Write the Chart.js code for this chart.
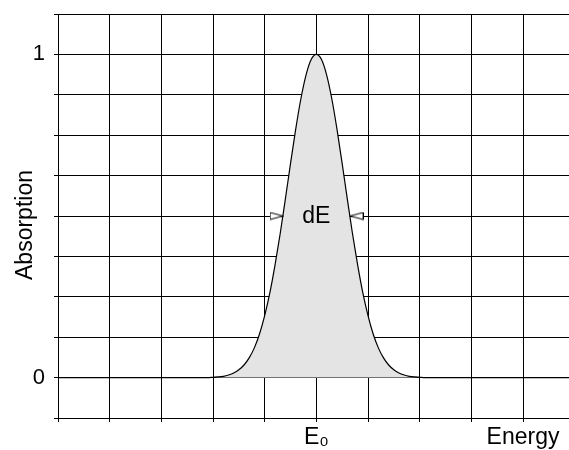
<!DOCTYPE html>
<html>
<head>
<meta charset="utf-8">
<script src="https://cdn.jsdelivr.net/npm/chart.js@4"></script>
<style>
  html, body { margin: 0; padding: 0; background: #fff; }
  #wrap { width: 569px; height: 450px; position: relative; }
</style>
</head>
<body>
<div id="wrap"><canvas id="absChart"></canvas></div>
<script>
// energy axis (grid units) and absorption values
const energy = [0, 2.9, 3.0, 3.1, 3.2, 3.3, 3.4, 3.5, 3.6, 3.7, 3.8, 3.9, 4.0, 4.1, 4.2, 4.3, 4.4, 4.5, 4.6, 4.7, 4.8, 4.9,
  5.0, 5.1, 5.2, 5.3, 5.4, 5.5, 5.6, 5.7, 5.8, 5.9, 6.0, 6.1, 6.2, 6.3, 6.4, 6.5, 6.6, 6.7, 6.8, 6.9, 7.0, 7.1, 9.9];
const absorption = [0, 0, 0.001, 0.002, 0.004, 0.008, 0.014, 0.024, 0.039, 0.061, 0.092, 0.135, 0.192, 0.262, 0.348, 0.445, 0.552, 0.662, 0.768, 0.862, 0.936, 0.984,
  1.0, 0.984, 0.936, 0.862, 0.768, 0.662, 0.552, 0.445, 0.348, 0.262, 0.192, 0.135, 0.092, 0.061, 0.039, 0.024, 0.014, 0.008, 0.004, 0.002, 0.001, 0, 0];

// tick labels
const xTickLabels = ['', '', '', '', '', 'E\u2080', '', '', '', 'Energy'];
const yTickValues = [0, 1];
const yTickLabels = ['0', '1'];
const yTitle = 'Absorption';

// width markers (half maximum) and label
const markerX = [4.23, 5.78];
const markerY = [0.5, 0.5];
const markerRotation = [0, 180];
const noteText = ['dE'];
const noteX = [5];
const noteY = [0.5];

const FONT = '"Liberation Sans", Arial, sans-serif';

// small open arrowhead pointing right
function makeArrow() {
  const c = document.createElement('canvas');
  c.width = 14;
  c.height = 9;
  const g = c.getContext('2d');
  g.beginPath();
  g.moveTo(0.5, 1);
  g.lineTo(13.5, 4.5);
  g.lineTo(0.5, 8);
  g.closePath();
  g.fillStyle = '#fff';
  g.fill();
  g.strokeStyle = '#000';
  g.lineWidth = 1;
  g.stroke();
  return c;
}
const arrow = makeArrow();

const notePlugin = {
  id: 'notes',
  afterDatasetsDraw(chart) {
    const { ctx, scales, chartArea } = chart;
    ctx.save();
    ctx.fillStyle = '#000';
    ctx.font = '23px ' + FONT;
    ctx.textAlign = 'center';
    ctx.textBaseline = 'middle';
    noteText.forEach((t, i) => {
      ctx.fillText(t, scales.x.getPixelForValue(noteX[i]), scales.y.getPixelForValue(noteY[i]) + 1);
    });
    // axis title, sits a little below the middle of the axis
    ctx.translate(26, (chartArea.top + chartArea.bottom) / 2 + 9);
    ctx.rotate(-Math.PI / 2);
    ctx.fillText(yTitle, 0, 0);
    ctx.restore();
  }
};

new Chart(document.getElementById('absChart'), {
  type: 'line',
  data: {
    datasets: [
      {
        label: 'markers',
        type: 'scatter',
        data: markerX.map((x, i) => ({ x: x, y: markerY[i] })),
        pointStyle: arrow,
        rotation: markerRotation,
        pointRadius: 7,
        pointHoverRadius: 7,
        order: 0
      },
      {
        label: 'Absorption',
        data: energy.map((x, i) => ({ x: x, y: absorption[i] })),
        borderColor: '#000',
        borderWidth: 1.2,
        backgroundColor: '#e4e4e4',
        fill: 'origin',
        pointRadius: 0,
        cubicInterpolationMode: 'monotone',
        order: 1
      }
    ]
  },
  options: {
    responsive: true,
    maintainAspectRatio: false,
    animation: false,
    events: [],
    layout: { autoPadding: false, padding: { top: 14, right: 0, left: 0, bottom: 0 } },
    plugins: {
      legend: { display: false },
      tooltip: { enabled: false }
    },
    scales: {
      x: {
        type: 'linear',
        min: 0,
        max: 9.89,
        afterFit(scale) {
          scale.height = 32;
          scale.paddingLeft = 0;
          scale.paddingRight = 0;
        },
        grid: { color: '#000', lineWidth: 1, tickLength: 4, tickColor: '#000' },
        border: { display: false },
        ticks: {
          stepSize: 1,
          includeBounds: false,
          autoSkip: false,
          maxRotation: 0,
          padding: 2,
          color: '#000',
          font: { family: FONT, size: 23 },
          callback: (v) => xTickLabels[v] || ''
        }
      },
      y: {
        min: -0.125,
        max: 1.125,
        afterFit(scale) {
          scale.width = 58;
          scale.paddingTop = 0;
          scale.paddingBottom = 0;
        },
        grid: { color: '#000', lineWidth: 1, tickLength: 4, tickColor: '#000' },
        border: { display: false },
        ticks: {
          stepSize: 0.125,
          autoSkip: false,
          padding: 9,
          color: '#000',
          font: { family: FONT, size: 22 },
          callback: (v) => {
            const k = yTickValues.findIndex(t => Math.abs(t - v) < 1e-6);
            return k >= 0 ? yTickLabels[k] : '';
          }
        }
      }
    }
  },
  plugins: [notePlugin]
});
</script>
</body>
</html>
